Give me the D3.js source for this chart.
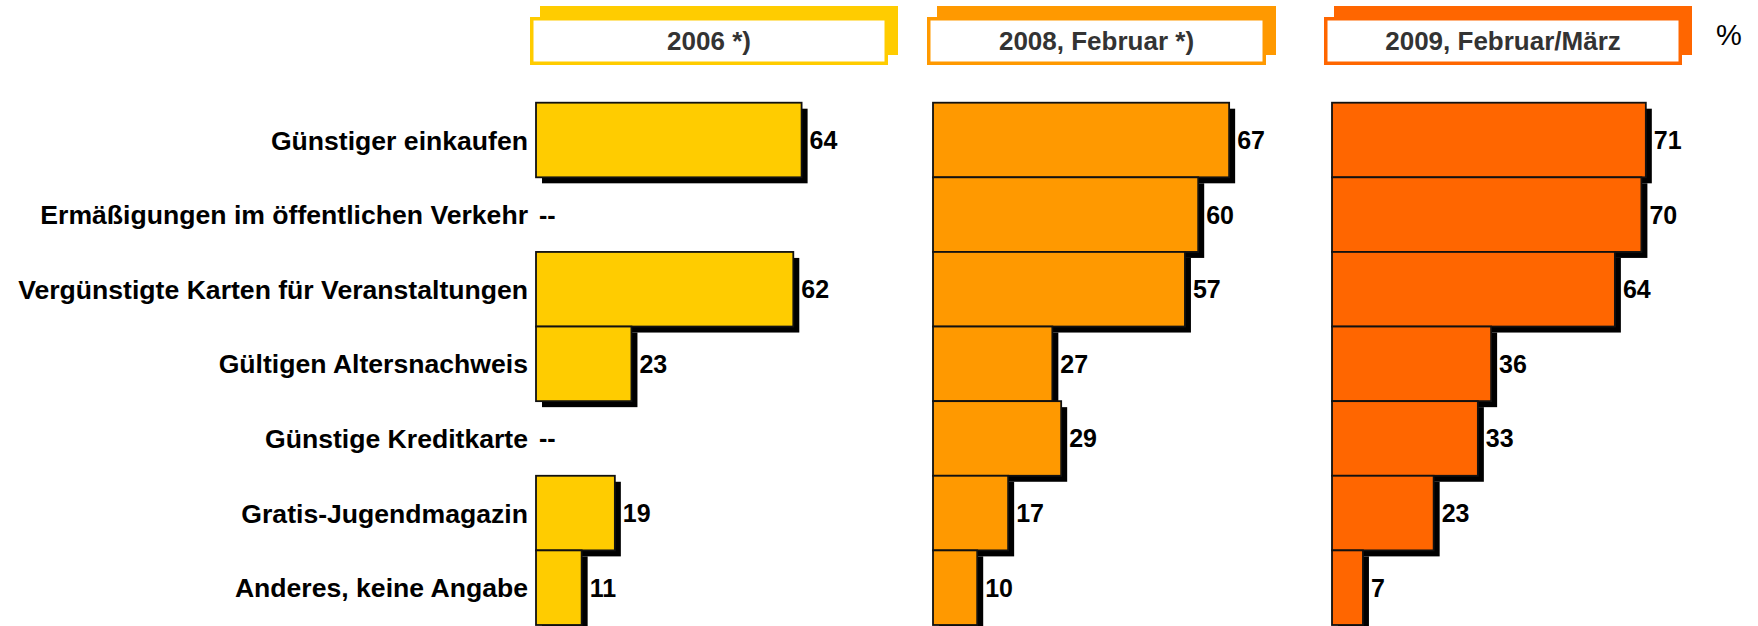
<!DOCTYPE html>
<html>
<head>
<meta charset="utf-8">
<script src="https://cdn.jsdelivr.net/npm/d3@7"></script>
<style>
	body { margin: 0; background: #fff; }
	text { font-family: "Liberation Sans", Arial, sans-serif; }
</style>
</head>
<body>
<svg id="chart" width="1758" height="626"></svg>
<script>

// data -------------------------------
var categories = [
	"Günstiger einkaufen",
	"Ermäßigungen im öffentlichen Verkehr",
	"Vergünstigte Karten für Veranstaltungen",
	"Gültigen Altersnachweis",
	"Günstige Kreditkarte",
	"Gratis-Jugendmagazin",
	"Anderes, keine Angabe"
]
var years   = ["2006 *)", "2008, Februar *)", "2009, Februar/März"]
var v2006   = [64, null, 62, 23, null, 19, 11]
var v2008   = [67, 60, 57, 27, 29, 17, 10]
var v2009   = [71, 70, 64, 36, 33, 23, 7]

var colors  = ["#FFCC00", "#FF9900", "#FF6600"]

var panels = [
	{year: years[0], values: v2006, color: colors[0], x0: 536, w: 415, head: [530, 888]},
	{year: years[1], values: v2008, color: colors[1], x0: 933, w: 442, head: [927, 1266]},
	{year: years[2], values: v2009, color: colors[2], x0: 1332, w: 442, head: [1324, 1682]}
]

var svg = d3.select("#chart")

var y = d3.scaleBand()
	.domain(categories)
	.range([102.7, 625])
	.padding(0)

// category labels
svg.append("g").selectAll("text")
	.data(categories)
.enter().append("text")
	.attr("x", 528)
	.attr("y", d => y(d) + y.bandwidth() / 2)
	.attr("dy", "0.36em")
	.attr("text-anchor", "end")
	.attr("font-size", 26.6)
	.attr("font-weight", "bold")
	.attr("fill", "#000")
	.text(d => d)

panels.forEach(function(p) {

	var x = d3.scaleLinear()
		.domain([0, 100])
		.range([p.x0, p.x0 + p.w])

	var rows = categories.map((c, i) => ({cat: c, value: p.values[i]}))

	// header box
	var head = svg.append("g")
	head.append("rect")
		.attr("x", p.head[0] + 10)
		.attr("y", 6)
		.attr("width", p.head[1] - p.head[0])
		.attr("height", 49)
		.attr("fill", p.color)
	head.append("rect")
		.attr("x", p.head[0] + 1.75)
		.attr("y", 18.75)
		.attr("width", p.head[1] - p.head[0] - 3.5)
		.attr("height", 44.5)
		.attr("fill", "#fff")
		.attr("stroke", p.color)
		.attr("stroke-width", 3.5)
	head.append("text")
		.attr("x", (p.head[0] + p.head[1]) / 2)
		.attr("y", 41)
		.attr("dy", "0.36em")
		.attr("text-anchor", "middle")
		.attr("font-size", 26)
		.attr("font-weight", "bold")
		.attr("fill", "#333")
		.text(p.year)

	var g = svg.append("g")
	var bars = g.selectAll("g.bar")
		.data(rows.filter(d => d.value != null))
	.enter().append("g")
		.attr("class", "bar")

	// drop shadow
	bars.append("rect")
		.attr("x", x(0) + 6)
		.attr("y", d => y(d.cat) + 6)
		.attr("width", d => x(d.value) - x(0))
		.attr("height", y.bandwidth())
		.attr("fill", "#000")

	bars.append("rect")
		.attr("x", x(0))
		.attr("y", d => y(d.cat))
		.attr("width", d => x(d.value) - x(0))
		.attr("height", y.bandwidth())
		.attr("fill", p.color)
		.attr("stroke", "#111")
		.attr("stroke-width", 1.8)

	g.selectAll("text.val")
		.data(rows)
	.enter().append("text")
		.attr("class", "val")
		.attr("x", d => d.value == null ? x(0) + 3 : x(d.value) + 8)
		.attr("y", d => y(d.cat) + y.bandwidth() / 2)
		.attr("dy", "0.36em")
		.attr("font-size", 25)
		.attr("font-weight", "bold")
		.attr("fill", "#000")
		.text(d => d.value == null ? "--" : d.value)
})

svg.append("text")
	.attr("x", 1716)
	.attr("y", 45)
	.attr("font-size", 29)
	.attr("fill", "#000")
	.text("%")

</script>
</body>
</html>
